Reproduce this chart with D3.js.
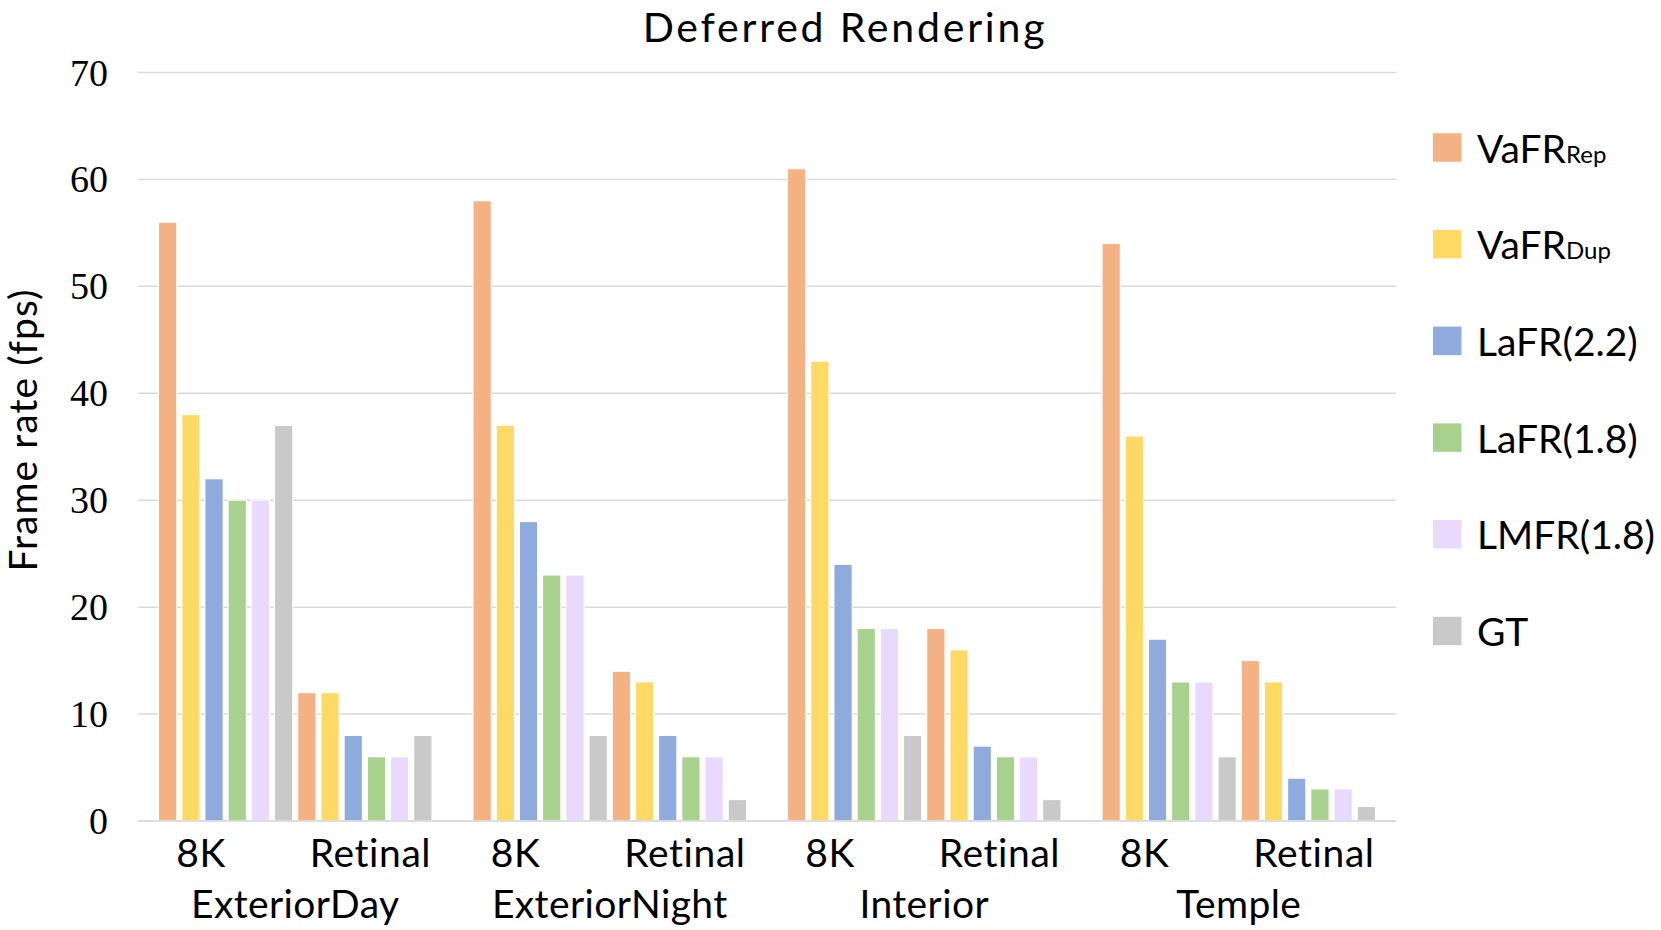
<!DOCTYPE html>
<html>
<head>
<meta charset="utf-8">
<script src="https://cdn.jsdelivr.net/npm/d3@7"></script>
<style>
  body { margin: 0; background: #fff; }
  svg { display: block; }
</style>
</head>
<body>
<svg id="chart"></svg>
<script>
const scenes = ["ExteriorDay", "ExteriorNight", "Interior", "Temple"];
const resolutions = ["8K", "Retinal"];
const methods = ["VaFR_Rep", "VaFR_Dup", "LaFR(2.2)", "LaFR(1.8)", "LMFR(1.8)", "GT"];
const colors = ["#F4B183", "#FFD966", "#8FAADC", "#A9D18E", "#EAD9FF", "#C9C9C9"];

// frame rate per scene, one array per resolution, in method order
const fps8K = [
  [56, 38, 32, 30, 30, 37],
  [58, 37, 28, 23, 23, 8],
  [61, 43, 24, 18, 18, 8],
  [54, 36, 17, 13, 13, 6]
];
const fpsRetinal = [
  [12, 12, 8, 6, 6, 8],
  [14, 13, 8, 6, 6, 2],
  [18, 16, 7, 6, 6, 2],
  [15, 13, 4, 3, 3, 1.35]
];
const yTicks = [0, 10, 20, 30, 40, 50, 60, 70];

const width = 1661, height = 930;
const plotLeft = 138, plotRight = 1396, plotTop = 72.5, plotBottom = 821;

const svg = d3.select("#chart").attr("width", width).attr("height", height);

const y = d3.scaleLinear().domain([0, 70]).range([plotBottom, plotTop]);

const x0 = d3.scaleBand().domain(scenes).range([plotLeft, plotRight])
  .paddingInner(0.1148).paddingOuter(0.0574);

// 12 slots per scene: 6 methods for 8K then 6 for Retinal
const slots = [];
resolutions.forEach(r => methods.forEach(m => slots.push(r + "|" + m)));
const x1 = d3.scaleBand().domain(slots).range([0, x0.bandwidth()])
  .paddingInner(0.216).paddingOuter(0.108);

const rows = [];
scenes.forEach((s, si) => {
  methods.forEach((m, mi) => {
    rows.push({ scene: s, res: "8K", method: m, i: mi, value: fps8K[si][mi] });
    rows.push({ scene: s, res: "Retinal", method: m, i: mi, value: fpsRetinal[si][mi] });
  });
});

// gridlines
svg.append("g")
  .selectAll("line")
  .data(yTicks)
  .enter().append("line")
  .attr("x1", plotLeft).attr("x2", plotRight)
  .attr("y1", d => y(d)).attr("y2", d => y(d))
  .attr("stroke", "#D9D9D9")
  .attr("stroke-width", 1.5);

// y tick labels
svg.append("g")
  .selectAll("text")
  .data(yTicks)
  .enter().append("text")
  .attr("x", 108)
  .attr("y", d => y(d) + 13)
  .attr("text-anchor", "end")
  .attr("font-family", "'Liberation Serif', serif")
  .attr("font-size", 38)
  .attr("fill", "#000")
  .text(d => d);

// bars
svg.append("g")
  .selectAll("rect")
  .data(rows)
  .enter().append("rect")
  .attr("x", d => x0(d.scene) + x1(d.res + "|" + d.method))
  .attr("y", d => y(d.value))
  .attr("width", x1.bandwidth())
  .attr("height", d => y(0) - y(d.value))
  .attr("fill", d => colors[d.i])
  .attr("stroke", "#fff")
  .attr("stroke-width", 1);

// baseline on top of bars
svg.append("line")
  .attr("x1", plotLeft).attr("x2", plotRight)
  .attr("y1", y(0)).attr("y2", y(0))
  .attr("stroke", "#D9D9D9")
  .attr("stroke-width", 1.5);

const sans = "Lato, 'Open Sans', sans-serif";

// resolution labels under each half of a scene
const resOffset = { "8K": 0.1616, "Retinal": 0.770 };
const resLabels = [];
scenes.forEach(s => resolutions.forEach(r => resLabels.push({ scene: s, res: r })));
svg.append("g")
  .selectAll("text")
  .data(resLabels)
  .enter().append("text")
  .attr("x", d => x0(d.scene) + x0.bandwidth() * resOffset[d.res])
  .attr("y", 867)
  .attr("text-anchor", "middle")
  .attr("font-family", sans)
  .attr("font-size", 39)
  .attr("letter-spacing", 0.6)
  .attr("fill", "#000")
  .text(d => d.res);

// scene labels
svg.append("g")
  .selectAll("text")
  .data(scenes)
  .enter().append("text")
  .attr("x", d => x0(d) + x0.bandwidth() / 2)
  .attr("y", 918)
  .attr("text-anchor", "middle")
  .attr("font-family", sans)
  .attr("font-size", 39)
  .attr("letter-spacing", 0.4)
  .attr("fill", "#000")
  .text(d => d);

// title
svg.append("text")
  .attr("x", 845).attr("y", 42)
  .attr("text-anchor", "middle")
  .attr("font-family", sans)
  .attr("font-size", 41)
  .attr("letter-spacing", 2.8)
  .attr("fill", "#000")
  .text("Deferred Rendering");

// y axis title
svg.append("text")
  .attr("transform", "translate(37,430) rotate(-90)")
  .attr("text-anchor", "middle")
  .attr("font-family", sans)
  .attr("font-size", 39)
  .attr("letter-spacing", 1.1)
  .attr("fill", "#000")
  .text("Frame rate (fps)");

// legend
const legend = svg.append("g")
  .selectAll("g")
  .data(methods)
  .enter().append("g")
  .attr("transform", (d, i) => `translate(1433,${147.5 + i * 96.7})`);

legend.append("rect")
  .attr("x", 0).attr("y", -14.25)
  .attr("width", 28.5).attr("height", 28.5)
  .attr("fill", (d, i) => colors[i]);

legend.append("text")
  .attr("x", 44).attr("y", 15)
  .attr("font-family", sans)
  .attr("font-size", 39)
  .attr("fill", "#000")
  .each(function (d) {
    const t = d3.select(this);
    const parts = d.split("_");
    t.append("tspan").text(parts[0]);
    if (parts[1]) t.append("tspan").attr("font-size", 24).text(parts[1]);
  });
</script>
</body>
</html>
